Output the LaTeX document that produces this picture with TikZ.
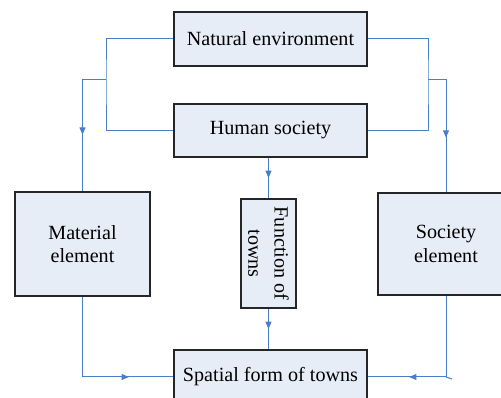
\documentclass[tikz,border=0pt]{standalone}
\usepackage{fontspec}
\setmainfont{Liberation Serif}
\usetikzlibrary{decorations.markings,arrows.meta}

\tikzset{every picture/.style={line width=0.75pt}}
\tikzset{
  box/.style={draw={rgb, 255:red, 38; green, 38; blue, 38 },line width=0.9pt,fill={rgb, 255:red, 230; green, 237; blue, 247 },align=center,inner sep=0.75pt,font=\fontsize{15.1}{17.4}\selectfont},
  link/.style={draw={rgb, 255:red, 74; green, 126; blue, 200 },line width=0.75pt},
  midarrow/.style={link,postaction={decorate},decoration={markings,mark=at position #1 with {\arrow[fill={rgb, 255:red, 74; green, 126; blue, 200 }]{Triangle[length=5.5pt,width=4.5pt]}}}}
}

\begin{document}
\begin{tikzpicture}[x=0.75pt,y=0.75pt,yscale=-1,xscale=1]
\useasboundingbox (0,0) rectangle (501,398);

%Shape: Rectangle [natural environment]
\node (nat) at (270.5,39) [box,minimum width=144.75pt,minimum height=40.5pt] {Natural environment};
%Shape: Rectangle [human society]
\node (hum) at (270.5,130.5) [box,minimum width=144.75pt,minimum height=39.75pt] {Human society};
%Shape: Rectangle [material element]
\node (mat) at (82.5,244) [box,minimum width=101.25pt,minimum height=78pt] {Material\\element};
%Shape: Rectangle [society element]
\node (soc) at (446,244) [box,minimum width=102pt,minimum height=76.5pt] {Society\\element};
%Shape: Rectangle [function of towns]
\node (fun) at (268.5,253.5) [box,rotate=-90,minimum width=81.75pt,minimum height=41.25pt,font=\fontsize{15.1}{19.8}\selectfont] {Function of\\towns};
%Shape: Rectangle [spatial form]
\node (spa) at (270.5,377) [box,minimum width=144.75pt,minimum height=40.5pt] {Spatial form of towns};

%Straight Lines [left bracket]
\coordinate (lj) at (106,80);
\coordinate (rj) at (428,80);
\draw [link] (nat.west) -| (lj) |- (hum.west);
\draw [link] (nat.east) -| (rj) |- (hum.east);
%Straight Lines [to elements]
\draw [midarrow=0.58] (lj) -| (mat.north);
\draw [midarrow=0.58] (rj) -| (soc.north);
%Straight Lines [middle column]
\draw [midarrow=0.5] (hum.south -| fun.west) -- (fun.west);
\draw [midarrow=0.5] (fun.east) -- (fun.east |- spa.north);
%Straight Lines [to spatial form]
\draw [midarrow=0.74] (mat.south) |- (spa.west);
\draw [midarrow=0.74] (soc.south) |- (spa.east);
\coordinate (stub) at (452,379);
\draw [link] (soc.south |- spa.east) -- (stub);

\end{tikzpicture}
\end{document}
